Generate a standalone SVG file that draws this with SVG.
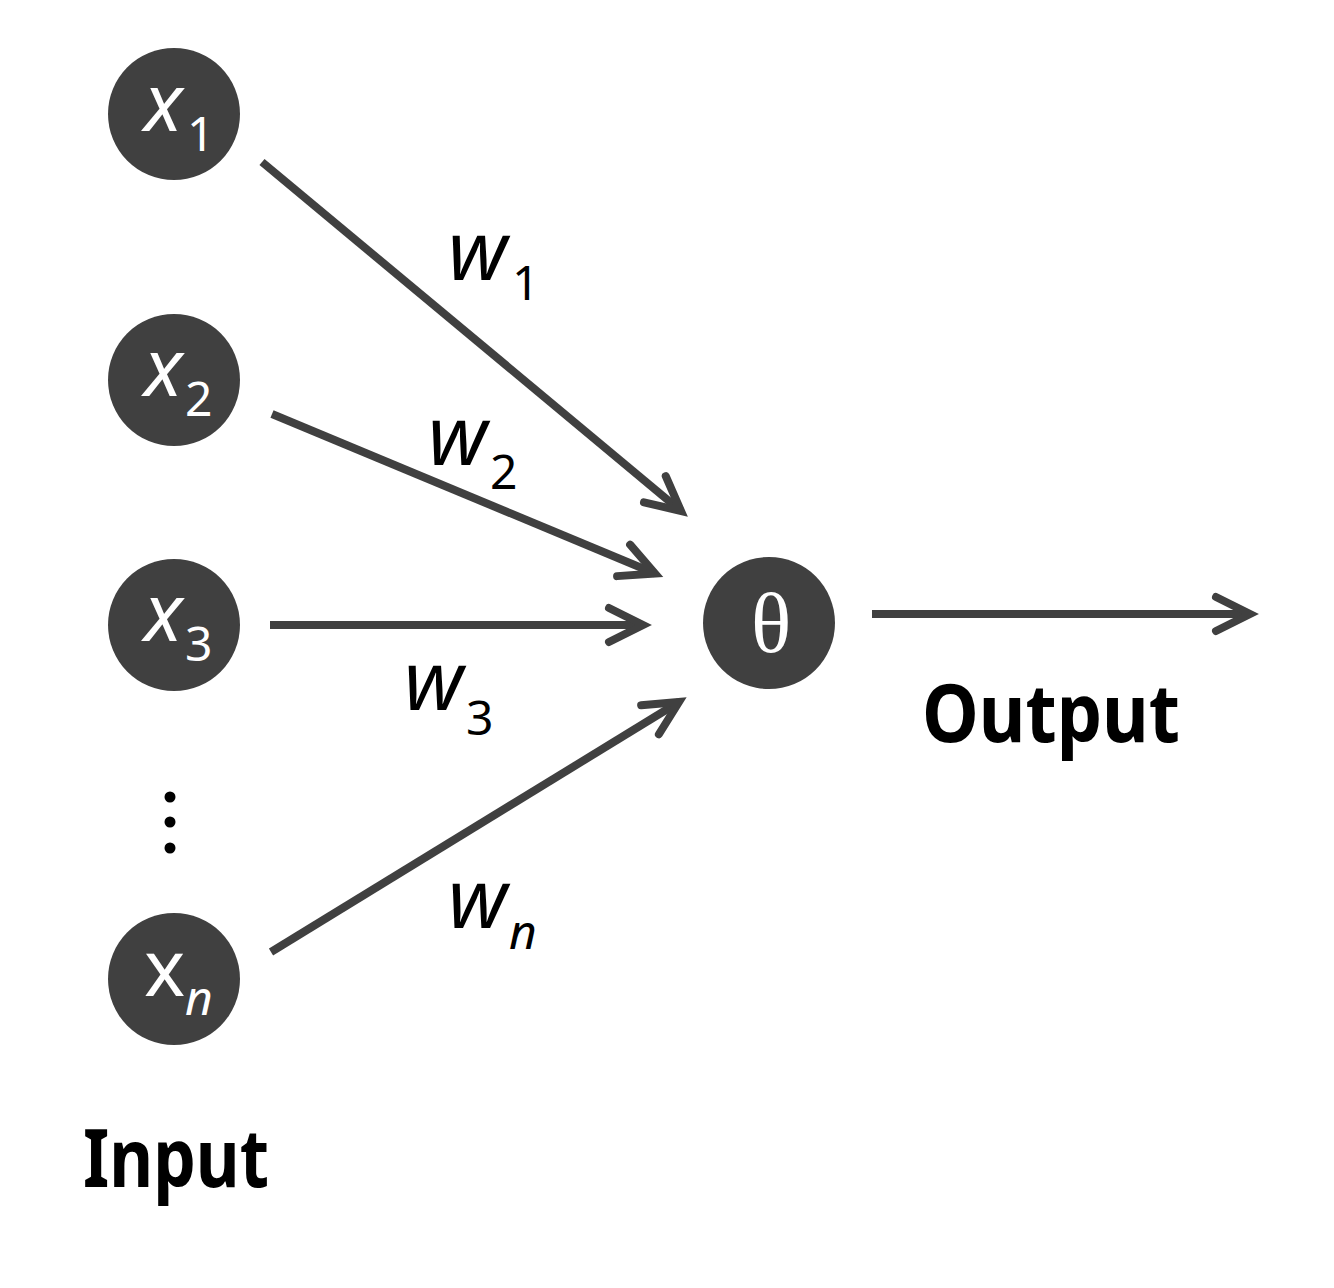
<svg xmlns="http://www.w3.org/2000/svg" width="1334" height="1288" viewBox="0 0 1334 1288">
  <style>
    .node { fill: #404040; }
    .nlab { fill: #ffffff; font-family: "Noto Sans", "Open Sans", sans-serif; }
    .wlab { fill: #000000; font-family: "Noto Sans", "Open Sans", sans-serif; }
    .big { font-style: italic; font-size: 82px; }
    .xbig { font-style: italic; font-size: 80px; }
    .sub { font-size: 48px; }
    .ital { font-style: italic; }
    .edge { stroke: #404040; stroke-width: 8; fill: none; marker-end: url(#head); }
    .title { fill: #000000; font-family: "Noto Sans", "Open Sans", sans-serif; font-weight: bold; font-size: 80px; }
  </style>
  <defs>
    <marker id="head" markerUnits="userSpaceOnUse" orient="auto" refX="0" refY="0" markerWidth="80" markerHeight="80" overflow="visible">
      <path d="M-34,-17 L0,0 L-34,17" fill="none" stroke="#404040" stroke-width="8" stroke-linecap="round" stroke-linejoin="miter"/>
    </marker>
  </defs>
  <rect width="1334" height="1288" fill="#ffffff"/>

  <!-- weighted connections into the neuron and the output -->
  <g id="connectors">
    <line class="edge" x1="262" y1="162" x2="681" y2="511"/>
    <line class="edge" x1="272" y1="414" x2="655" y2="573.5"/>
    <line class="edge" x1="270" y1="625" x2="643" y2="625"/>
    <line class="edge" x1="271" y1="952" x2="679" y2="702"/>
    <line class="edge" x1="872" y1="614" x2="1250" y2="614"/>
  </g>

  <g id="input-x1">
    <circle class="node" cx="174" cy="114" r="66"/>
    <text class="nlab xbig" x="144" y="131">x</text>
    <text class="nlab sub" x="187" y="151">1</text>
  </g>
  <g id="input-x2">
    <circle class="node" cx="174" cy="380" r="66"/>
    <text class="nlab xbig" x="144" y="396">x</text>
    <text class="nlab sub" x="185" y="416">2</text>
  </g>
  <g id="input-x3">
    <circle class="node" cx="174" cy="625" r="66"/>
    <text class="nlab xbig" x="144" y="641">x</text>
    <text class="nlab sub" x="185" y="661">3</text>
  </g>
  <g id="ellipsis">
    <circle cx="170" cy="797" r="5.5" fill="#000"/>
    <circle cx="170" cy="822" r="5.5" fill="#000"/>
    <circle cx="170" cy="848" r="5.5" fill="#000"/>
  </g>
  <g id="input-xn">
    <circle class="node" cx="174" cy="979" r="66"/>
    <text class="nlab" x="144" y="996" font-size="78">x</text>
    <text class="nlab sub ital" x="185" y="1015">n</text>
  </g>

  <g id="neuron">
    <circle class="node" cx="769" cy="623" r="66"/>
    <text x="771" y="652" fill="#ffffff" font-family="'Liberation Serif', 'DejaVu Serif', serif" font-size="84" text-anchor="middle">θ</text>
  </g>

  <g id="weights">
    <text class="wlab big" x="448" y="280">w</text>
    <text class="wlab sub" x="512" y="300">1</text>
    <text class="wlab big" x="428" y="465">w</text>
    <text class="wlab sub" x="490" y="489">2</text>
    <text class="wlab big" x="404" y="710">w</text>
    <text class="wlab sub" x="466" y="735">3</text>
    <text class="wlab big" x="448" y="928">w</text>
    <text class="wlab sub ital" x="509" y="949">n</text>
  </g>

  <g id="labels">
    <text class="title" x="922" y="742" textLength="258" lengthAdjust="spacingAndGlyphs">Output</text>
    <text class="title" x="83" y="1187" textLength="186" lengthAdjust="spacingAndGlyphs">Input</text>
  </g>
</svg>
